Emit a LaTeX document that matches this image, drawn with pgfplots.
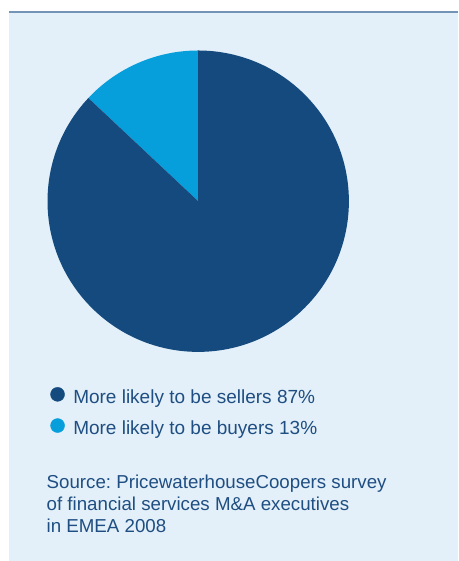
\documentclass[border=0pt]{standalone}
\usepackage{pgfplots}
\pgfplotsset{compat=1.18}
\usepackage{pgfplotstable}
\usepackage{fontspec}
\setmainfont{Liberation Sans}
\frenchspacing
\definecolor{pwcbg}{HTML}{E3F0F9}
\definecolor{pwcline}{HTML}{7394B6}
\definecolor{pwcdark}{HTML}{154A7E}
\definecolor{pwclight}{HTML}{079FDB}
\definecolor{pwctxt}{HTML}{1F4E82}

\pgfplotstableread{
label share
buyers 13
sellers 87
}\piedata

\begin{document}
\begin{tikzpicture}[x=1bp,y=1bp]
\pgfplotstablegetelem{0}{share}\of\piedata
\pgfmathsetmacro\sharebuy{\pgfplotsretval}
\pgfmathsetmacro\angA{90+3.6*\sharebuy}
\path (0,0) rectangle (458,561);
\fill[pwcbg] (9,0) rectangle (458,549);
\draw[pwcline, line width=1.5bp] (9,549) -- (458,549);
\begin{axis}[
  at={(198.2bp,359.8bp)}, anchor=origin,
  x=150.7bp, y=150.7bp,
  xmin=-1, xmax=1, ymin=-1, ymax=1,
  hide axis, clip=false,
  legend image code/.code={\fill[#1] (7bp,0.45em) circle[radius=7bp];},
  legend cell align=left,
  legend style={at={(axis description cs:0.0095,-0.117)}, anchor=north west,
    draw=none, fill=none, inner sep=0pt, outer sep=0pt,
    font=\fontsize{19bp}{22bp}\selectfont, text=pwctxt,
    column sep=8.5bp, row sep=10bp,
    nodes={inner sep=0pt, text height=14bp, text depth=5bp}},
]
\fill[pwclight] (axis cs:0,0) -- (axis cs:0,1) arc[start angle=90, end angle=\angA, radius=150.7bp] -- cycle;
\fill[pwcdark] (axis cs:0,0) -- (axis cs:{cos(\angA)},{sin(\angA)}) arc[start angle=\angA, end angle=450, radius=150.7bp] -- cycle;
\addlegendimage{pwcdark}
\addlegendentry{More likely to be sellers 87\%}
\addlegendimage{pwclight}
\addlegendentry{More likely to be buyers 13\%}
\end{axis}
\node[anchor=base west, inner sep=0pt, text=pwctxt, font=\fontsize{18.7bp}{22bp}\selectfont, align=left] at (46.5,28.7)
  {Source: PricewaterhouseCoopers survey\\of financial services M\&A executives\\in EMEA 2008};
\end{tikzpicture}
\end{document}
